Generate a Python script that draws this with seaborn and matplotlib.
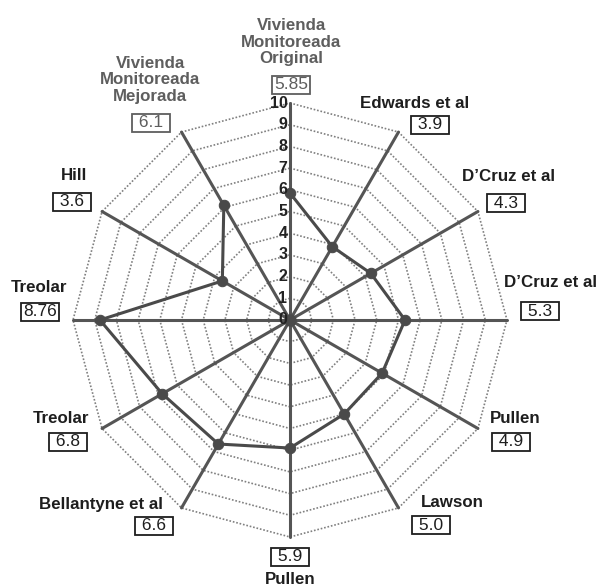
import numpy as np
import pandas as pd
import matplotlib
matplotlib.use("Agg")
import matplotlib.pyplot as plt
import seaborn as sns

# categories clockwise from the top spoke
categories = ["Vivienda\nMonitoreada\nOriginal", "Edwards et al", "D\u2019Cruz et al",
              "D\u2019Cruz et al", "Pullen", "Lawson", "Pullen", "Bellantyne et al",
              "Treolar", "Treolar", "Hill", "Vivienda\nMonitoreada\nMejorada"]
values = [5.85, 3.9, 4.3, 5.3, 4.9, 5.0, 5.9, 6.6, 6.8, 8.76, 3.6, 6.1]
value_labels = ["5.85", "3.9", "4.3", "5.3", "4.9", "5.0", "5.9", "6.6", "6.8", "8.76", "3.6", "6.1"]
ring_levels = [1, 2, 3, 4, 5, 6, 7, 8, 9, 10]
tick_labels = ["0", "1", "2", "3", "4", "5", "6", "7", "8", "9", "10"]

# label layout (axis units, centre of chart at 0,0)
name_xy = [(0.05, 12.81), (5.76, 10.0), (10.05, 6.59), (12.03, 1.71), (10.37, -4.52),
           (7.47, -8.39), (0.0, -11.98), (-8.71, -8.48), (-10.55, -4.56), (-11.57, 1.52),
           (-9.95, 6.68), (-6.45, 11.06)]
box_xy = [(0.05, 10.83), (6.45, 8.99), (9.95, 5.39), (11.52, 0.41), (10.18, -5.62),
          (6.5, -9.45), (0.0, -10.92), (-6.27, -9.49), (-10.23, -5.62), (-11.52, 0.37),
          (-10.05, 5.44), (-6.41, 9.08)]

sns.set_style("white")
plt.rcParams["font.family"] = ["Liberation Sans", "DejaVu Sans"]

n = len(categories)
angles = np.arange(n) * 2 * np.pi / n   # clockwise from top


def to_xy(r, a):
    return np.asarray(r) * np.sin(a), np.asarray(r) * np.cos(a)


fig = plt.figure(figsize=(6, 5.86), dpi=100)
ax = fig.add_axes([0, 0, 1, 1])

# dotted grid rings
ring_angles = np.append(angles, angles[0])
for lev in ring_levels:
    gx, gy = to_xy(np.full(len(ring_angles), lev), ring_angles)
    ax.plot(gx, gy, color="#808080", lw=1.2, ls=(0, (1.0, 1.1)), zorder=1)

# spokes
for a in angles:
    sx, sy = to_xy([0, 10], [a, a])
    ax.plot(sx, sy, color="#555555", lw=2.2, zorder=2)

# data polygon
closed_vals = values + [values[0]]
px, py = to_xy(closed_vals, ring_angles)
df = pd.DataFrame({"x": px, "y": py})
sns.lineplot(data=df, x="x", y="y", sort=False, ax=ax, color="#4a4a4a", lw=2.2,
             marker="o", markersize=7.5, markeredgecolor="#4a4a4a", zorder=3)
ax.plot([0], [0], marker="o", color="#4a4a4a", markersize=8, zorder=3)

# radial tick labels along the top spoke
for i, t in enumerate(tick_labels):
    ax.text(-0.12, i, t, ha="right", va="center", fontsize=11.5, fontweight="bold",
            color="#222222", zorder=4)

# category names and value boxes
for i in range(n):
    grey = i in (0, n - 1)
    tcol = "#5e5e5e" if grey else "#1e1e1e"
    ax.text(*name_xy[i], categories[i], ha="center", va="center", fontsize=12.2,
            fontweight="bold", color=tcol, linespacing=1.15)
    lab = value_labels[i] if len(value_labels[i]) > 3 else " " + value_labels[i] + " "
    ax.text(*box_xy[i], lab, ha="center", va="center", fontsize=12.5, color=tcol,
            bbox=dict(boxstyle="square,pad=0.1", fc="white", ec=tcol, lw=1.3))

ax.set_xlim(-290 / 21.7, 310 / 21.7)
ax.set_ylim(-266 / 21.7, 320 / 21.7)
ax.set_xlabel("")
ax.set_ylabel("")
ax.axis("off")

fig.savefig("out.png", dpi=100)
